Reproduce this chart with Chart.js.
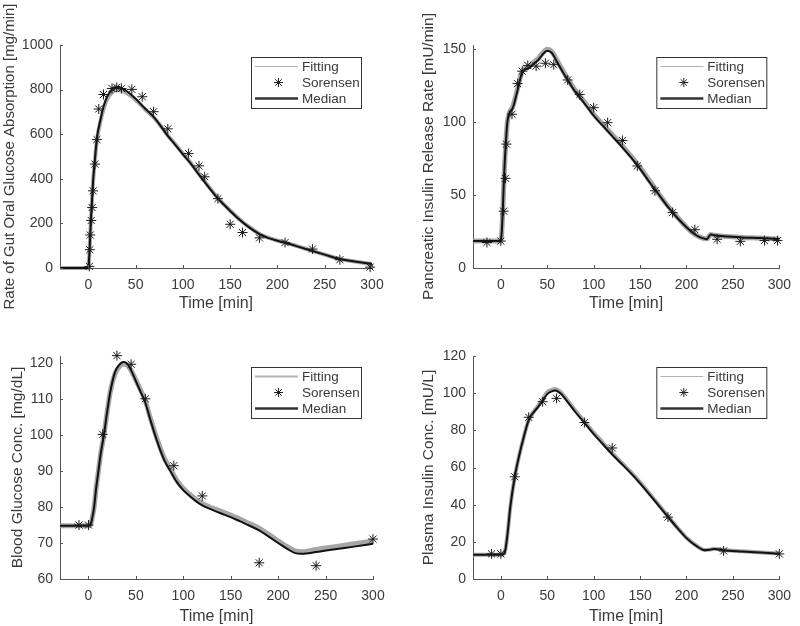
<!DOCTYPE html>
<html>
<head>
<meta charset="utf-8">
<script src="https://cdn.jsdelivr.net/npm/chart.js@4.4.1/dist/chart.umd.min.js"></script>
<style>
  body { margin: 0; background: #fff; }
  #wrap { position: relative; width: 800px; height: 626px; }
  #wrap canvas { position: absolute; }
</style>
</head>
<body>
<div id="wrap">
  <canvas id="gutChart" width="400" height="313" style="left:0;top:0"></canvas>
  <canvas id="pancChart" width="400" height="313" style="left:400px;top:0"></canvas>
  <canvas id="glucChart" width="400" height="313" style="left:0;top:313px"></canvas>
  <canvas id="insChart" width="400" height="313" style="left:400px;top:313px"></canvas>
</div>
<script>
// tick values
const timeTicks = [0, 50, 100, 150, 200, 250, 300];
const gutTicks = [0, 200, 400, 600, 800, 1000];
const pancTicks = [0, 50, 100, 150];
const glucTicks = [60, 70, 80, 90, 100, 110, 120];
const insTicks = [0, 20, 40, 60, 80, 100, 120];

// Rate of gut oral glucose absorption
const gutTime = [-30, 0, 1, 2, 3, 5, 7, 9, 12.7, 16, 20, 25, 30, 35, 40, 46, 51, 57, 60, 69, 76, 83, 90, 100, 106, 120, 137, 140, 150, 160, 170, 181, 190, 200, 208, 220, 237, 250, 266, 280, 298, 300];
const gutMedian = [0, 0, 60, 150, 240, 390, 490, 580, 664, 723, 770, 800, 812, 808, 795, 775, 755, 728, 715, 678, 640, 598, 562, 510, 480, 402, 311, 298, 256, 216, 182, 152, 135, 122, 114, 98, 76, 60, 40, 30, 19, 18];
const gutFit = [0, 0, 60, 150, 240, 388, 486, 575, 655, 712, 758, 788, 798, 796, 786, 768, 750, 725, 712, 676, 640, 600, 565, 513, 483, 405, 314, 300, 258, 218, 184, 153, 136, 123, 115, 99, 77, 60, 40, 30, 19, 18];
const gutSorTime = [1, 1.5, 2, 3, 4, 5, 7, 9, 11, 16, 25, 30, 35, 46, 57, 69, 84, 106, 117, 123, 137, 150, 163, 181, 208, 237, 266, 298];
const gutSor = [7, 82, 148, 213, 271, 346, 466, 576, 713, 778, 805, 810, 805, 801, 768, 701, 624, 513, 458, 409, 311, 196, 159, 135, 114, 85, 37, 4];

// Pancreatic insulin release rate
const pancTime = [-30, 0, 1, 2, 3, 4, 5, 6, 7, 9, 13, 18, 23.5, 30, 35, 40, 45, 50, 55, 60, 70, 80, 90, 100, 110, 120, 130, 140, 150, 160, 170, 180, 190, 200, 208, 215, 222, 226, 230, 240, 260, 280, 300];
const pancMedian = [18.5, 18.5, 25, 38, 55, 70, 82, 92, 100, 106, 110, 122, 135, 137, 140, 142.5, 146.5, 149, 147.5, 142, 131, 121, 113, 104.5, 97.5, 90.5, 83.5, 76, 68, 59, 50.5, 42, 34.5, 28, 23.5, 21, 19.8, 23, 22.5, 21.8, 21, 20.5, 19.8];
const pancFit = [18.5, 18.5, 25, 38, 55, 70, 82, 92, 100, 106, 111, 123, 135.5, 138, 141, 143.5, 147.5, 150, 148.5, 143, 132, 122, 114, 105.5, 98.5, 91.5, 84.5, 77, 69, 60, 51, 42.5, 35, 28, 23.5, 21, 20, 23, 22.5, 21.8, 21, 20.5, 19.8];
const pancSorTime = [-15, 0, 3, 5, 6, 12, 18, 23, 29, 38, 48, 57, 72, 85, 100, 115, 131, 147, 166, 185, 209, 233, 258, 284, 298];
const pancSor = [17.5, 18.5, 39, 61.5, 85, 105.5, 126.5, 135, 139, 138.5, 140.5, 139.5, 129, 119, 110, 99.7, 87.5, 70, 53, 38, 26.3, 19.7, 18.3, 18.8, 18.8];

// Blood glucose concentration
const glucTime = [-30, 0, 2, 4, 6, 8, 10, 13, 16, 20, 23, 28, 33, 37, 41, 45, 50, 55, 60, 65, 72, 80, 86, 93, 100, 107, 114, 120, 130, 140, 150, 160, 170, 180, 190, 200, 210, 218, 225, 240, 260, 280, 300];
const glucMedian = [74.8, 74.8, 75, 77, 80, 85, 89, 95, 99.5, 107, 112, 117.5, 119.7, 120.3, 119.8, 118, 115, 112, 109, 104.5, 98.6, 93, 90.2, 87, 84.7, 83, 81.5, 80.5, 79.3, 78.2, 77.2, 76, 74.8, 73.5, 71.8, 70, 68.3, 67.2, 67, 67.5, 68.3, 69, 69.8];
const glucFit = [74.8, 74.8, 75, 77, 80, 85, 89, 95, 99.5, 107, 112, 117, 119.2, 119.8, 119.5, 118, 115.3, 112.5, 109.5, 105, 99.2, 93.6, 90.8, 87.5, 85.2, 83.5, 82, 81, 79.8, 78.8, 77.8, 76.6, 75.4, 74.1, 72.4, 70.6, 68.9, 67.8, 67.6, 68.2, 69, 69.8, 70.5];
const glucSorTime = [-10, 0, 15, 30, 45, 60, 90, 120, 180, 240, 300];
const glucSor = [75, 75, 100.2, 122.1, 119.7, 110.1, 91.5, 83.1, 64.5, 63.7, 71.1];

// Plasma insulin concentration
const insTime = [-30, 0, 3, 5, 8, 10, 15, 20, 25, 30, 40, 45, 50, 55, 58, 60, 65, 70, 80, 90, 100, 110, 120, 130, 140, 150, 160, 170, 180, 190, 200, 210, 220, 225, 230, 240, 260, 280, 300];
const insMedian = [13, 13, 13.5, 16, 28, 38, 55, 67, 77, 85.5, 92.5, 96, 99.5, 101, 101.5, 101.3, 99.5, 96.5, 90, 84, 78, 72.5, 67, 62, 57, 51.5, 45.5, 39.5, 33.5, 27.5, 22, 18, 15.5, 15.7, 16.2, 15.5, 14.8, 14.2, 13.6];
const insFit = [13, 13, 13.5, 16, 28, 38, 55, 67, 77, 85.5, 93, 96.5, 100.5, 101.8, 102.2, 102, 100.3, 97.3, 90.8, 84.8, 78.8, 73.3, 67.8, 62.6, 57.5, 52, 46, 40, 33.8, 27.8, 22.2, 18.2, 15.6, 15.8, 16.3, 15.6, 14.9, 14.3, 13.7];
const insSorTime = [-10, 0, 15, 30, 45, 60, 90, 120, 180, 240, 300];
const insSor = [13.5, 13.5, 55, 87, 95.4, 97.2, 84.2, 70.5, 33.3, 15.1, 13.5];

const textColor = '#3a3a3a';
const axisColor = '#555';
const fontFam = '"Liberation Sans", Arial, sans-serif';

const pairs = (xs, ys) => xs.map((x, i) => ({ x: x, y: ys[i] }));

// legend box drawn in the upper right corner of the plot area
const boxLegend = {
    id: 'boxLegend',
    afterDraw(chart, args, opts) {
        const { ctx, chartArea } = chart;
        const w = 110, h = 51;
        const x0 = chartArea.right - opts.right - w;
        const y0 = chartArea.top + opts.top;
        ctx.save();
        ctx.fillStyle = '#fff';
        ctx.fillRect(x0, y0, w, h);
        ctx.strokeStyle = '#333';
        ctx.lineWidth = 1;
        ctx.strokeRect(x0 + 0.5, y0 + 0.5, w, h);
        const rows = [9.5, 25.5, 41.5];
        // Fitting
        ctx.strokeStyle = '#b4b4b4';
        ctx.lineWidth = opts.fitWidth;
        ctx.beginPath();
        ctx.moveTo(x0 + 4, y0 + rows[0]);
        ctx.lineTo(x0 + 47, y0 + rows[0]);
        ctx.stroke();
        // Sorensen
        ctx.strokeStyle = '#222';
        ctx.lineWidth = 1;
        ctx.beginPath();
        const cx = x0 + 27.5, cy = y0 + rows[1];
        for (let a = 0; a < 4; a++) {
            const ang = a * Math.PI / 4;
            ctx.moveTo(cx - 4.5 * Math.cos(ang), cy - 4.5 * Math.sin(ang));
            ctx.lineTo(cx + 4.5 * Math.cos(ang), cy + 4.5 * Math.sin(ang));
        }
        ctx.stroke();
        // Median
        ctx.strokeStyle = '#333';
        ctx.lineWidth = 2.5;
        ctx.beginPath();
        ctx.moveTo(x0 + 4, y0 + rows[2]);
        ctx.lineTo(x0 + 47, y0 + rows[2]);
        ctx.stroke();
        ctx.fillStyle = textColor;
        ctx.font = '13.5px ' + fontFam;
        ctx.textBaseline = 'middle';
        ['Fitting', 'Sorensen', 'Median'].forEach((t, i) => ctx.fillText(t, x0 + 51, y0 + rows[i] + 0.5));
        ctx.restore();
    }
};

// small inward ticks like matlab axes
const innerTicks = {
    id: 'innerTicks',
    afterDraw(chart) {
        const { ctx, chartArea, scales } = chart;
        ctx.save();
        ctx.strokeStyle = axisColor;
        ctx.lineWidth = 1;
        ctx.beginPath();
        scales.x.ticks.forEach(t => {
            const px = Math.round(scales.x.getPixelForValue(t.value)) + 0.5;
            ctx.moveTo(px, chartArea.bottom);
            ctx.lineTo(px, chartArea.bottom - 3);
        });
        scales.y.ticks.forEach(t => {
            const py = Math.round(scales.y.getPixelForValue(t.value)) + 0.5;
            ctx.moveTo(chartArea.left, py);
            ctx.lineTo(chartArea.left + 3, py);
        });
        ctx.stroke();
        ctx.restore();
    }
};

function makePanel(id, p) {
    new Chart(document.getElementById(id), {
        type: 'line',
        data: {
            datasets: [
                {
                    label: 'Sorensen',
                    data: pairs(p.sorTime, p.sor),
                    showLine: false,
                    pointStyle: 'star',
                    pointRadius: 5,
                    pointBorderWidth: 1,
                    pointBorderColor: '#1a1a1a',
                    clip: false,
                    order: 0
                },
                {
                    label: 'Median',
                    data: pairs(p.time, p.median),
                    borderColor: '#111',
                    borderWidth: 2,
                    pointRadius: 0,
                    cubicInterpolationMode: 'monotone',
                    clip: false,
                    order: 1
                },
                {
                    label: 'Fitting',
                    data: pairs(p.time, p.fit),
                    borderColor: 'rgba(150,150,150,0.85)',
                    borderWidth: p.fitWidth,
                    pointRadius: 0,
                    cubicInterpolationMode: 'monotone',
                    clip: false,
                    order: 2
                }
            ]
        },
        options: {
            responsive: false,
            animation: false,
            devicePixelRatio: 1,
            layout: { padding: { left: 0, top: p.area.top, right: 400 - p.area.right, bottom: 0 } },
            scales: {
                x: {
                    type: 'linear',
                    min: -30,
                    max: 300,
                    afterBuildTicks: s => { s.ticks = timeTicks.map(v => ({ value: v })); },
                    afterFit: s => { s.height = 313 - p.area.bottom; },
                    grid: { display: false, drawTicks: false },
                    border: { display: true, color: axisColor, width: 1 },
                    ticks: { color: textColor, font: { size: 14, family: fontFam }, padding: 9, maxRotation: 0, callback: v => String(v) },
                    title: { display: true, text: 'Time [min]', color: textColor, font: { size: 16, family: fontFam }, padding: { top: 0, bottom: 0 } }
                },
                y: {
                    type: 'linear',
                    min: p.yMin,
                    max: p.yMax,
                    afterBuildTicks: s => { s.ticks = p.yTicks.map(v => ({ value: v })); },
                    afterFit: s => { s.width = p.area.left; },
                    grid: { display: false, drawTicks: false },
                    border: { display: true, color: axisColor, width: 1 },
                    ticks: { color: textColor, font: { size: 14, family: fontFam }, padding: 7, callback: v => String(v) },
                    title: { display: true, text: p.yTitle, color: textColor, font: { size: p.titleSize, family: fontFam }, padding: { top: p.titlePad, bottom: 0 } }
                }
            },
            plugins: {
                legend: { display: false },
                tooltip: { enabled: false },
                boxLegend: { right: p.legend.right, top: p.legend.top, fitWidth: p.legendFitWidth }
            }
        },
        plugins: [boxLegend, innerTicks]
    });
}

makePanel('gutChart', {
    time: gutTime, median: gutMedian, fit: gutFit, sorTime: gutSorTime, sor: gutSor,
    yMin: 0, yMax: 1000, yTicks: gutTicks,
    yTitle: 'Rate of Gut Oral Glucose Absorption [mg/min]', titlePad: 1, titleSize: 15,
    area: { left: 60, right: 372, top: 45, bottom: 268 },
    legend: { right: 11, top: 12 }, fitWidth: 4, legendFitWidth: 1
});
makePanel('pancChart', {
    time: pancTime, median: pancMedian, fit: pancFit, sorTime: pancSorTime, sor: pancSor,
    yMin: 0, yMax: 153, yTicks: pancTicks,
    yTitle: 'Pancreatic Insulin Release Rate [mU/min]', titlePad: 19, titleSize: 15.5,
    area: { left: 73, right: 386, top: 45, bottom: 268 },
    legend: { right: 13, top: 12 }, fitWidth: 5, legendFitWidth: 1
});
makePanel('glucChart', {
    time: glucTime, median: glucMedian, fit: glucFit, sorTime: glucSorTime, sor: glucSor,
    yMin: 60, yMax: 122, yTicks: glucTicks,
    yTitle: 'Blood Glucose Conc. [mg/dL]', titlePad: 8, titleSize: 15.5,
    area: { left: 60, right: 373, top: 43, bottom: 266 },
    legend: { right: 12, top: 11 }, fitWidth: 5, legendFitWidth: 2
});
makePanel('insChart', {
    time: insTime, median: insMedian, fit: insFit, sorTime: insSorTime, sor: insSor,
    yMin: 0, yMax: 120, yTicks: insTicks,
    yTitle: 'Plasma Insulin Conc. [mU/L]', titlePad: 19, titleSize: 15.5,
    area: { left: 73, right: 386, top: 43, bottom: 266 },
    legend: { right: 13, top: 11 }, fitWidth: 4, legendFitWidth: 1
});
</script>
</body>
</html>
